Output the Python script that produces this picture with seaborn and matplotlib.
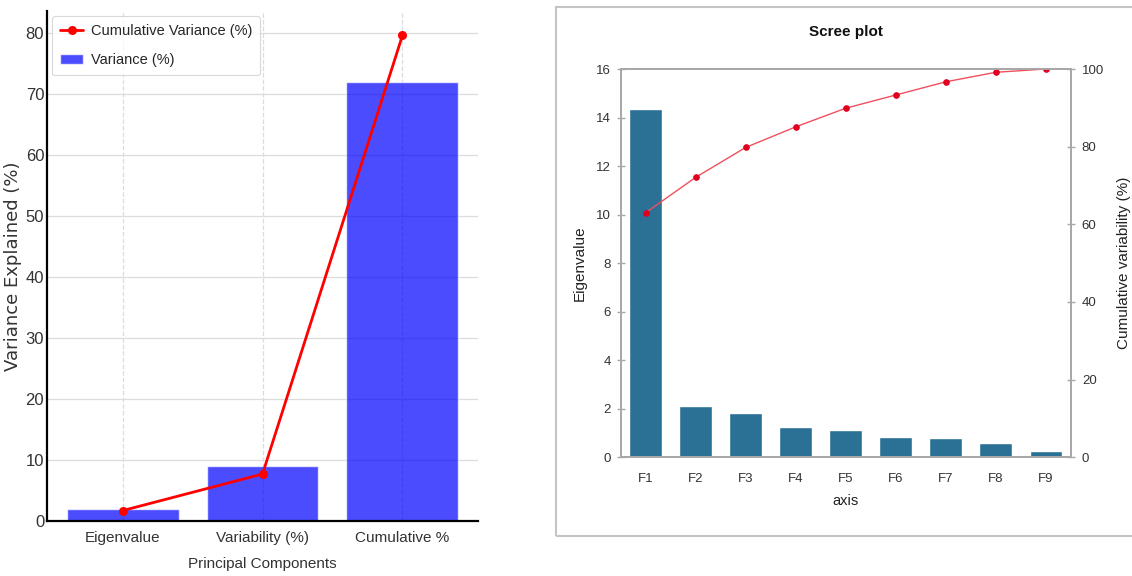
import matplotlib
matplotlib.use("Agg")
import matplotlib.pyplot as plt
from matplotlib.patches import Rectangle
import seaborn as sns

# ---- data -------------------------------------------------------------
components = ["Eigenvalue", "Variability (%)", "Cumulative %"]
variance_pct = [2.0, 9.0, 72.0]
cumulative_variance_pct = [1.7, 7.7, 79.6]

factor_axes = ["F1", "F2", "F3", "F4", "F5", "F6", "F7", "F8", "F9"]
eigenvalues = [14.35, 2.11, 1.81, 1.26, 1.12, 0.82, 0.78, 0.58, 0.27]
cumulative_variability = [63.0, 72.1, 79.8, 85.1, 89.9, 93.3, 96.7, 99.15, 100.0]

eigen_ticks = [0, 2, 4, 6, 8, 10, 12, 14, 16]
cum_ticks = [0, 20, 40, 60, 80, 100]

# ---- style ------------------------------------------------------------
sns.set_style("white")
plt.rcParams["font.family"] = ["Liberation Sans", "DejaVu Sans"]

fig = plt.figure(figsize=(11.32, 5.76), dpi=100)

# ---- left panel: variance bars with cumulative line --------------------
ax1 = fig.add_axes([0.0415, 0.0955, 0.3808, 0.8854])
sns.barplot(x=components, y=variance_pct, color="blue", alpha=0.7,
            saturation=1, width=0.8, ax=ax1, label="Variance (%)")
sns.pointplot(x=components, y=cumulative_variance_pct, color="red",
              markers="o", linestyles="-", markersize=5, linewidth=2,
              ax=ax1, label="Cumulative Variance (%)")
ax1.set_xlim(-0.54, 2.54)
ax1.set_ylim(0, 83.6)
ax1.set_yticks([0, 10, 20, 30, 40, 50, 60, 70, 80])
ax1.set_axisbelow(True)
ax1.yaxis.grid(True, color="#dcdcdc", linewidth=0.9, linestyle="-")
ax1.xaxis.grid(True, color="#dcdcdc", linewidth=0.9, linestyle="--")
for side in ("top", "right"):
    ax1.spines[side].set_visible(False)
for side in ("left", "bottom"):
    ax1.spines[side].set_color("black")
    ax1.spines[side].set_linewidth(1.6)
ax1.tick_params(axis="both", length=0, labelcolor="#333333")
ax1.tick_params(axis="y", pad=2, labelsize=12)
ax1.tick_params(axis="x", pad=7, labelsize=11)
ax1.set_xlabel("Principal Components", fontsize=11,
               color="#333333", labelpad=9)
ax1.set_ylabel("Variance Explained (%)", family=["DejaVu Sans"], fontsize=13,
               color="#333333")
ax1.yaxis.set_label_coords(-0.058, 0.5)
leg = ax1.legend(loc="upper left", prop={"size": 10.5},
                 frameon=True, fancybox=True, edgecolor="#d0d0d0",
                 borderaxespad=0.35, handlelength=1.6, labelspacing=1.05,
                 handletextpad=0.5, borderpad=0.55)
leg.get_frame().set_linewidth(0.8)

# ---- right panel: scree plot --------------------------------------------
frame = Rectangle((556 / 1132, 1 - 536 / 576), 1.0, (536 - 7) / 576,
                  transform=fig.transFigure, fill=False,
                  edgecolor="#c4c4c4", linewidth=1.5)
fig.patches.append(frame)

spine_gray = "#a8a8a8"
text_gray = "#333333"

ax2 = fig.add_axes([0.5483, 0.2061, 0.3976, 0.6741])
sns.barplot(x=factor_axes, y=eigenvalues, color="#2a7195", saturation=1,
            width=0.65, ax=ax2)
ax2.set_ylim(0, 16)
ax2.set_yticks(eigen_ticks)
ax2.set_xlim(-0.5, 8.5)

ax3 = ax2.twinx()
sns.pointplot(x=factor_axes, y=cumulative_variability, color="#e8102a",
              markers="o", linestyles="-", markersize=4, linewidth=1,
              ax=ax3)
for ln in ax3.lines:
    ln.set_color("#f0505e")
    ln.set_markerfacecolor("#e00020")
    ln.set_markeredgecolor("#e00020")
ax3.set_ylim(0, 100)
ax3.set_yticks(cum_ticks)
ax3.set_xlim(-0.5, 8.5)

for a in (ax2, ax3):
    a.grid(False)
    for side in a.spines:
        a.spines[side].set_visible(True)
        a.spines[side].set_color(spine_gray)
        a.spines[side].set_linewidth(1.3)

ax2.tick_params(axis="y", direction="inout", length=6, width=1,
                color=spine_gray, labelsize=9.5, labelcolor=text_gray, pad=4)
ax2.tick_params(axis="x", length=0, labelsize=9.5, labelcolor=text_gray, pad=11)
ax3.tick_params(axis="y", direction="inout", length=6, width=1,
                color=spine_gray, labelsize=9.5, labelcolor=text_gray, pad=5)

ax2.set_xlabel("axis", fontsize=10.5, color="#222222", labelpad=7)
ax2.set_ylabel("Eigenvalue", fontsize=11, color="#222222", labelpad=7)
ax3.set_ylabel("Cumulative variability (%)", fontsize=11, color="#222222",
               labelpad=9)
ax2.set_title("Scree plot", fontsize=11, fontweight="bold", color="#111111",
              pad=24)

fig.savefig("out.png", dpi=100)
